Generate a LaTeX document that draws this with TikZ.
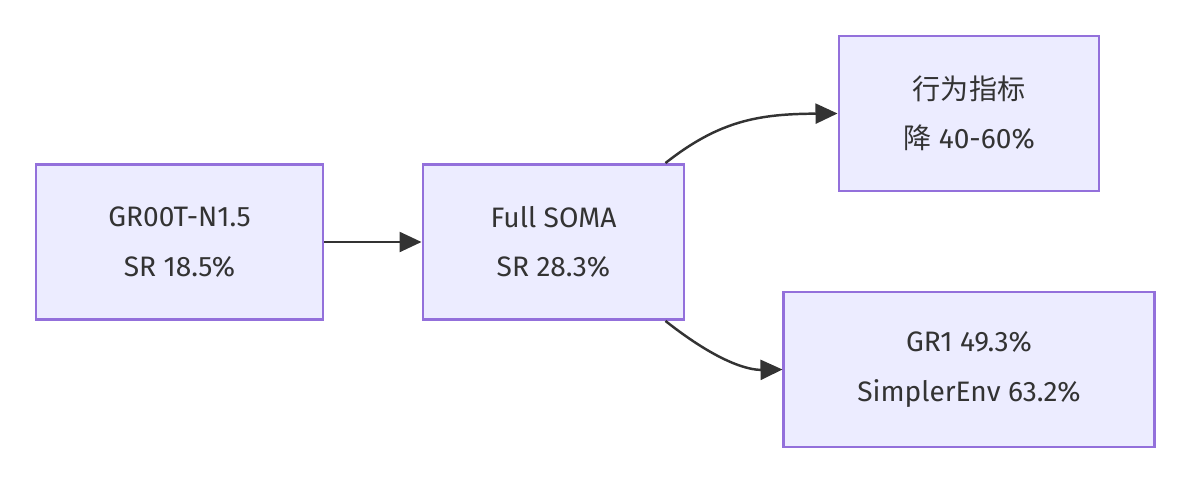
\documentclass[tikz,border=0pt]{standalone}
\usepackage{fontspec}
\setmainfont{Fira Sans}
\newfontfamily\cjk{Noto Sans CJK SC}
\usetikzlibrary{positioning,arrows.meta}
\definecolor{boxfill}{HTML}{ECECFF}
\definecolor{boxline}{HTML}{9370DB}
\definecolor{edgegray}{HTML}{333333}

\begin{document}
\begin{tikzpicture}[x=0.01cm,y=0.01cm,
    stage/.style={rectangle,draw=boxline,fill=boxfill,line width=0.8pt,minimum height=1.55cm,align=center,font=\fontsize{8}{14}\selectfont,text=edgegray},
    flow/.style={-{Triangle[length=2.2mm,width=2mm]},draw=edgegray,line width=0.7pt}
]
    \useasboundingbox (0,0) rectangle (1190,484);
    % stages
    \node[stage,minimum width=2.87cm] (groot) at (179.5,242) {GR00T-N1.5\\SR 18.5\%};
    \node[stage,minimum width=2.61cm] (soma) at (553.5,242) {Full SOMA\\SR 28.3\%};
    \node[stage,minimum width=2.60cm] (behav) at (969,370.5) {{\cjk 行为指标}\\{\cjk 降} 40-60\%};
    \node[stage,minimum width=3.70cm] (bench) at (969,114.5) {GR1 49.3\%\\SimplerEnv 63.2\%};

    \draw[flow] (groot) -- (soma);
    \draw[flow] ([xshift=-0.2cm]soma.north east) .. controls (720,364) and (760,370) .. (behav.west);
    \draw[flow] ([xshift=-0.2cm]soma.south east) .. controls (720,120) and (750,114) .. (bench.west);
\end{tikzpicture}
\end{document}
